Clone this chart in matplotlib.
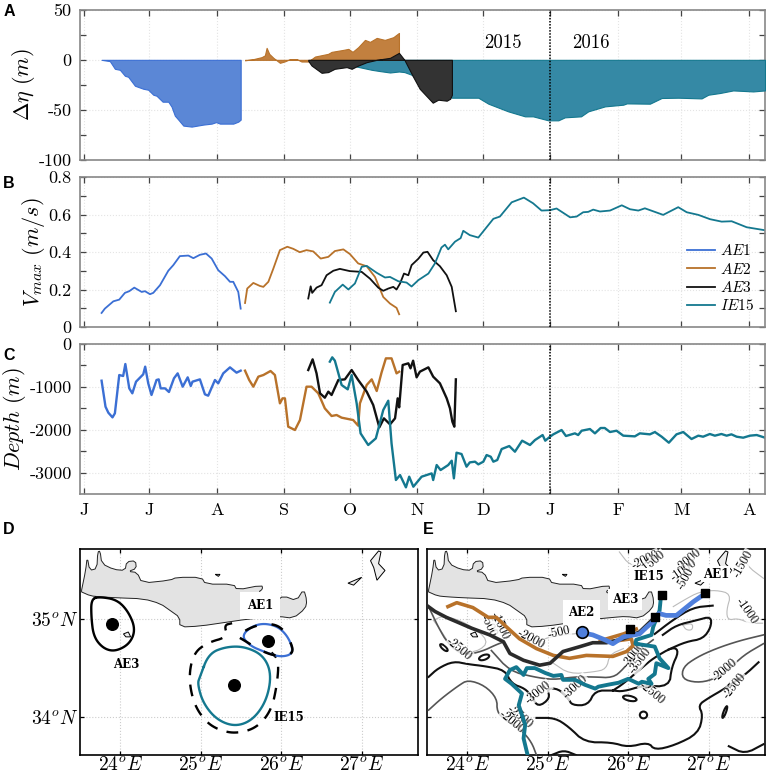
import numpy as np
import matplotlib
matplotlib.use('Agg')
import matplotlib.pyplot as plt
from matplotlib.patches import Ellipse
from matplotlib.ticker import FixedLocator

plt.rcParams['mathtext.fontset'] = 'cm'
plt.rcParams['font.family'] = ['cmr10', 'DejaVu Serif']
plt.rcParams['axes.formatter.use_mathtext'] = True

# days since 1 June 2015
month_days = [0, 30, 61, 92, 122, 153, 183, 214, 245, 274, 305]
month_labels = ['J', 'J', 'A', 'S', 'O', 'N', 'D', 'J', 'F', 'M', 'A']

# panel A, sea level anomaly (m)
ae1_eta = [[8.1, 11.9, 14.2, 16.5, 18.8, 20.3, 23.4, 27.2, 29.5, 31.8, 33.3, 36.1, 38.7, 40.2, 41.7, 43.3, 45.6, 49.4, 54.7, 58.6, 60.6, 62.4, 68.5, 70.8, 71.9],
           [0, -1.3, -9, -10, -16, -17, -26, -29, -30, -35, -36, -42, -42, -47, -56, -60, -66, -67, -65, -64, -62.5, -64, -64, -62, -60]]
ae2_eta = [[73.9, 77.7, 81.5, 83, 83.8, 85, 86.9, 89.9, 92.2, 94.5, 97.6, 99.8, 102.9, 106, 112, 113.6, 119, 121.3, 123.2, 125.8, 128.9, 131.2, 134.3, 138, 141.9, 144.5],
           [-0.5, 0.7, 2.7, 4.5, 12, 6, 2, -3, -1.5, 0.7, 0.7, -1.7, -1.7, 3.3, 6, 8, 10, 11, 8, 12.7, 20, 18, 22, 20, 22.7, 27]]
ae3_eta = [[102.9, 104.4, 109, 112, 115, 120.5, 122.8, 125.8, 129.7, 134.3, 140.4, 144.5, 147, 151, 154, 160, 162.5, 166.4, 168, 168.8],
           [-1, -5.7, -13, -12.3, -9, -7.3, -9, -5.7, -2.3, 0, 2, 7, 0, -17, -29, -43, -40, -41, -39, -35]]
ie15_eta = [[125, 132, 135.8, 140.4, 144.5, 147, 150, 168.8, 180.9, 185.5, 194.6, 202.3, 206, 213, 217.6, 220.6, 228, 231.3, 239, 247.4, 249, 259.6, 265, 272.6, 283.3, 286.4, 291.7, 297.8, 307, 312.4],
            [-6.7, -10, -11.3, -12.7, -11.7, -12.3, -14.7, -38, -38, -44, -51.7, -56.7, -56.7, -60.7, -60.7, -57.7, -56.7, -51.7, -46.7, -45, -43.7, -44, -38.3, -38, -38.7, -35, -33.3, -30.7, -31.7, -30.7]]

# panel B, maximum speed (m/s)
ae1_v = [[8.1, 9.6, 13.5, 16.2, 18.8, 20.8, 23.1, 26.5, 28, 30.3, 31.8, 34.9, 38.7, 41, 44, 47.9, 50.2, 53.2, 56, 58.6, 61.6, 64.7, 67, 68.5, 70.8, 71.9],
         [.075, .098, .137, .146, .182, .191, .21, .187, .191, .175, .182, .223, .3, .33, .378, .381, .367, .385, .392, .365, .303, .271, .241, .241, .187, .098]]
ae2_v = [[73.9, 74.9, 77.7, 80.7, 82.3, 84.6, 86.9, 89.9, 93.3, 96, 99, 102.1, 105.2, 108.6, 112.1, 115.1, 119, 122, 125.8, 129.7, 133.5, 137.3, 140.4, 143.4, 144.6],
         [.128, .205, .235, .219, .214, .241, .312, .41, .428, .417, .399, .41, .403, .365, .374, .405, .414, .389, .339, .324, .267, .16, .125, .102, .068]]
ae3_v = [[102.9, 104, 104.7, 106.7, 109, 111.3, 114.4, 117.4, 122, 127.4, 131.2, 135, 137.3, 139.6, 141.9, 143.4, 145, 146.8, 148.8, 150.3, 153.4, 155.7, 157.6, 160.2, 163.3, 166.4, 168.7, 170.6],
         [.152, .217, .182, .21, .223, .276, .3, .31, .298, .294, .258, .21, .193, .205, .214, .2, .232, .285, .276, .33, .364, .397, .401, .356, .324, .276, .214, .084]]
ie15_v = [[112.8, 115.1, 118.7, 121.3, 124.3, 127.4, 129.7, 134.3, 138.1, 140.4, 144.2, 148, 150.3, 153.4, 158, 161, 164, 165.6, 167.1, 170.2, 172.8, 174, 177, 180.9, 187.8, 190.8, 196.2, 201.8, 206, 209.9, 213.8, 216.8, 223, 226, 229, 231.3, 233.6, 236.7, 241.3, 246.7, 250.5, 254.3, 257.3, 265.7, 272.6, 276.5, 281.8, 287.2, 292.5, 297.1, 304, 312.4],
          [.13, .187, .226, .2, .232, .321, .326, .289, .264, .267, .244, .237, .216, .25, .285, .339, .424, .439, .414, .455, .474, .513, .49, .477, .577, .589, .665, .69, .66, .621, .623, .632, .585, .589, .612, .614, .626, .616, .621, .649, .628, .621, .633, .598, .639, .612, .598, .575, .562, .564, .532, .516]]

# panel C, depth (m)
ae1_z = [[8.1, 9.9, 11.2, 13.1, 14.2, 16.2, 18, 19, 20.8, 22.2, 23.9, 27.2, 28.1, 29.5, 31, 33.3, 34.3, 35.2, 37.2, 39, 41.3, 43, 45.3, 47.6, 49, 49.8, 53.2, 55.5, 57, 60.1, 61.6, 63.9, 67, 70, 71.9],
         [-856, -1463, -1603, -1712, -1618, -724, -747, -467, -1035, -1151, -879, -708, -529, -918, -1190, -840, -825, -1035, -1035, -1120, -801, -685, -996, -778, -980, -879, -825, -1175, -1206, -840, -918, -685, -545, -669, -622]]
ae2_z = [[73.9, 75.8, 77.7, 80, 82.3, 85.6, 87.6, 89.9, 91.1, 92.2, 93.7, 96.8, 99.1, 102.1, 104.4, 107.5, 110.5, 113.6, 115.9, 118.2, 123.5, 125.8, 126.6, 129.7, 132, 134.3, 136.5, 138.5, 141.1, 143.4, 144.6],
         [-622, -840, -996, -762, -724, -630, -724, -1385, -1268, -1268, -1929, -2007, -1774, -996, -996, -1151, -1502, -1680, -1657, -1719, -1774, -1906, -1385, -957, -825, -1097, -669, -335, -335, -685, -646]]
ae3_z = [[102.9, 104.9, 106.7, 108.3, 110.5, 112.1, 113.6, 116.7, 119.7, 122.8, 125.8, 129.7, 132.7, 135.5, 137.6, 140.4, 142.7, 143.9, 144.6, 146.2, 148.8, 149.8, 151, 152.6, 154.1, 158, 160.2, 163.3, 166.4, 167.9, 169, 169.9, 170.6],
         [-607, -358, -685, -1151, -1253, -1112, -1190, -840, -825, -607, -840, -1112, -1424, -1945, -1735, -1875, -1735, -1268, -1478, -490, -451, -568, -389, -778, -646, -545, -762, -918, -1268, -1502, -1813, -1929, -825]]
ie15_z = [[112.8, 113.9, 115.1, 118.2, 121, 122.8, 125.1, 126.9, 130.4, 133.9, 137.3, 139.6, 141.1, 143.1, 145, 147.7, 149.2, 151.1, 154.9, 159.5, 160.2, 161.8, 163.6, 167.1, 168.7, 169.7, 170.9, 173.2, 175.5, 177, 179.4, 180.9, 183.2, 184.7, 186.6, 187.8, 189.6, 191.6, 195.1, 197.7, 201, 204.6, 206.9, 210.4, 211.6, 213.8, 215.3, 219.1, 221.1, 225.2, 226.7, 228.3, 232.1, 234.4, 237, 238.9, 241.3, 244.3, 247.4, 252.7, 255, 259.6, 261.9, 265, 268.3, 271.8, 274.9, 278.7, 281.8, 284, 287.1, 289.4, 292.4, 294.8, 297, 299.4, 302.4, 305.5, 308.6, 312.4],
          [-412, -311, -389, -957, -1058, -724, -1385, -2085, -2357, -2202, -1540, -1323, -2318, -3174, -3058, -3345, -3096, -3330, -3096, -3019, -3174, -2824, -2941, -2824, -2723, -3135, -2536, -2567, -2863, -2762, -2746, -2809, -2746, -2591, -2630, -2746, -2707, -2451, -2381, -2513, -2256, -2357, -2241, -2124, -2256, -2163, -2108, -2007, -2147, -2085, -2124, -2023, -1984, -2085, -1960, -1960, -2054, -2023, -2139, -2155, -2085, -2108, -2054, -2163, -2303, -2108, -2054, -2217, -2139, -2163, -2100, -2139, -2100, -2139, -2108, -2163, -2186, -2139, -2124, -2186]]

# coast outlines, lon then lat
crete = [[23.52, 23.57, 23.59, 23.62, 23.71, 23.72, 23.75, 23.77, 23.92, 24.06, 24.08, 24.19, 24.20, 24.10, 24.21, 24.27, 24.62, 24.70, 25.01, 25.06, 25.41, 25.45, 25.76, 25.77, 25.72, 25.78, 25.94, 26.03, 26.19, 26.28, 26.32, 26.30, 26.15, 25.97, 25.82, 25.57, 25.32, 24.99, 24.74, 24.74, 24.62, 24.50, 24.29, 23.96, 23.75, 23.63, 23.52],
         [35.30, 35.50, 35.64, 35.50, 35.52, 35.69, 35.70, 35.57, 35.51, 35.50, 35.59, 35.60, 35.52, 35.49, 35.48, 35.37, 35.40, 35.43, 35.43, 35.36, 35.36, 35.30, 35.35, 35.31, 35.28, 35.26, 35.19, 35.24, 35.19, 35.31, 35.19, 35.11, 35.01, 35.03, 35.02, 35.00, 34.97, 34.93, 34.92, 35.02, 35.09, 35.16, 35.21, 35.22, 35.23, 35.24, 35.28]]
karpathos = [[27.11, 27.21, 27.24, 27.21, 27.29, 27.19, 27.15], [35.60, 35.70, 35.69, 35.57, 35.50, 35.40, 35.53]]
kasos = [[26.83, 27.0, 26.9], [35.37, 35.43, 35.35]]
gavdos = [[24.04, 24.10, 24.13, 24.07], [34.85, 34.87, 34.82, 34.82]]
dia = [[25.18, 25.24, 25.22], [35.46, 35.46, 35.44]]

# eddy outlines in panel D
ae3_edge = [[23.64, 23.75, 23.96, 24.10, 24.19, 24.12, 23.94, 23.79, 23.67, 23.64], [35.21, 35.23, 35.20, 35.08, 34.90, 34.75, 34.67, 34.70, 34.82, 35.02]]
ie15_edge = [[24.99, 25.10, 25.32, 25.55, 25.78, 25.88, 25.82, 25.65, 25.43, 25.20, 25.03, 24.96], [34.41, 34.65, 34.72, 34.72, 34.63, 34.44, 34.17, 33.97, 33.90, 33.97, 34.14, 34.34]]
ie15_outer = [[25.39, 25.29, 25.34, 25.08, 24.91, 24.85, 24.91, 25.06, 25.24, 25.45, 25.70, 25.88, 25.95, 25.97, 25.88], [34.96, 34.94, 34.82, 34.76, 34.65, 34.41, 34.14, 33.95, 33.86, 33.83, 33.89, 34.07, 34.34, 34.58, 34.66]]
ae1_edge = [[25.50, 25.70, 25.94, 26.09, 26.16, 25.99, 25.78, 25.61], [34.84, 34.96, 34.94, 34.82, 34.65, 34.61, 34.67, 34.73]]
ae1_outer = [[25.44, 25.70, 25.97, 26.11, 26.16, 25.94, 25.74, 25.53], [34.83, 34.95, 34.95, 34.79, 34.64, 34.62, 34.68, 34.79]]
centre_lon = [23.90, 25.84, 25.41]
centre_lat = [34.95, 34.78, 34.33]

# tracks in panel E
ae2_track = [[26.10, 25.94, 25.65, 25.77, 26.04, 26.06, 25.98, 25.81, 25.48, 25.27, 25.07, 24.86, 24.65, 24.49, 24.36, 24.26, 24.07, 23.87, 23.76],
             [34.90, 34.85, 34.78, 34.77, 34.80, 34.73, 34.67, 34.62, 34.63, 34.60, 34.63, 34.70, 34.80, 34.92, 35.02, 35.02, 35.12, 35.17, 35.13]]
ae3_track = [[26.33, 26.14, 25.94, 25.73, 25.56, 25.40, 25.19, 25.03, 24.90, 24.70, 24.53, 24.45, 24.28, 24.05, 23.91, 23.74, 23.60, 23.50],
             [35.02, 34.87, 34.80, 34.76, 34.76, 34.72, 34.67, 34.55, 34.53, 34.58, 34.65, 34.77, 34.84, 34.91, 34.96, 35.02, 35.08, 35.14]]
ie15_track = [[26.41, 26.39, 26.31, 26.29, 26.10, 26.09, 26.33, 26.39, 26.50, 26.35, 26.33, 26.25, 26.29, 26.17, 26.13, 26.0, 25.88, 25.75, 25.63, 25.59, 25.46, 25.34, 25.19, 25.17, 25.07, 24.97, 24.84, 24.74, 24.70, 24.61, 24.53, 24.47, 24.55, 24.68, 24.64, 24.72, 24.70, 24.75],
              [35.26, 35.09, 34.92, 34.84, 34.79, 34.75, 34.72, 34.60, 34.50, 34.55, 34.44, 34.39, 34.34, 34.36, 34.34, 34.39, 34.35, 34.33, 34.31, 34.29, 34.33, 34.38, 34.38, 34.43, 34.42, 34.45, 34.50, 34.50, 34.43, 34.51, 34.48, 34.39, 34.34, 34.24, 34.12, 33.92, 33.78, 33.61]]
ae1_track = [[26.95, 26.81, 26.60, 26.47, 26.38, 26.33, 26.23, 26.14, 25.94, 25.81, 25.71, 25.56, 25.44],
             [35.26, 35.18, 35.04, 35.04, 35.06, 34.99, 34.92, 34.85, 34.82, 34.75, 34.79, 34.84, 34.86]]
start_lon = [26.95, 26.42, 26.33, 26.02]
start_lat = [35.27, 35.25, 35.02, 34.90]

# isobaths, each with its line colour and width
black_lines = [
    [[24.86, 25.09, 25.26, 25.46, 25.79, 26.0, 26.25, 26.33, 26.58, 26.87, 26.93, 26.87, 26.99, 27.20, 27.45, 27.62], [33.99, 33.99, 33.90, 33.74, 33.74, 33.69, 33.74, 33.66, 33.71, 33.83, 34.02, 34.12, 34.19, 34.29, 34.43, 34.56]],
    [[23.52, 23.64, 23.83, 24.01, 24.22, 24.47, 24.55, 24.72, 24.80, 24.88, 25.03, 24.99, 25.13, 25.26, 25.30, 25.50, 25.59, 25.81], [34.41, 34.50, 34.57, 34.54, 34.52, 34.48, 34.34, 34.29, 34.21, 34.10, 34.19, 34.29, 34.29, 34.19, 34.12, 34.12, 34.27, 34.27]],
    [[25.81, 25.94, 26.18, 26.31, 26.56, 26.63, 26.54, 26.51, 26.18, 25.94, 25.81], [34.27, 34.34, 34.51, 34.60, 34.72, 34.67, 34.51, 34.31, 34.32, 34.26, 34.27]],
    [[26.33, 26.55, 26.80, 27.05], [34.85, 34.99, 35.12, 35.14]],
    [[26.43, 26.60, 26.85, 27.03, 27.03, 26.93, 26.72, 26.50], [34.84, 34.94, 34.99, 35.03, 34.92, 34.80, 34.77, 34.69]],
    [[27.25, 27.45, 27.68], [33.70, 33.62, 33.72]],
    [[25.05, 25.2, 25.35], [33.61, 33.66, 33.61]],
]
dark_lines = [
    [[23.52, 23.68, 23.89, 24.01, 24.22, 24.37, 24.37, 24.47, 24.68, 24.80, 24.86], [34.07, 34.19, 34.32, 34.38, 34.32, 34.19, 34.05, 33.97, 33.86, 33.74, 33.61]],
    [[27.68, 27.38, 27.09, 26.85, 26.68, 26.67, 26.85, 27.05, 27.26, 27.43, 27.68], [34.84, 34.78, 34.70, 34.61, 34.51, 34.39, 34.35, 34.38, 34.49, 34.63, 34.75]],
    [[23.52, 23.64, 23.76, 23.95, 24.18, 24.36, 24.46], [35.13, 34.92, 34.75, 34.63, 34.67, 34.74, 34.77]],
    [[24.30, 24.53, 24.82, 25.07, 25.32, 25.57, 25.81, 25.94, 26.10, 26.31], [34.68, 34.47, 34.41, 34.38, 34.41, 34.41, 34.40, 34.49, 34.66, 34.79]],
]
light_lines = [
    [[23.58, 23.71, 24.0, 24.28, 24.12, 23.83, 23.71, 23.58], [34.99, 35.04, 34.96, 34.78, 34.66, 34.67, 34.84, 34.99]],
    [[27.67, 27.51, 27.36, 27.24, 27.22, 27.28, 27.09, 26.88, 26.70, 26.56], [34.96, 34.96, 35.01, 34.99, 35.09, 35.26, 35.30, 35.28, 35.20, 35.13]],
    [[26.68, 26.80, 26.80, 26.72, 26.68], [34.94, 34.96, 34.89, 34.89, 34.94]],
    [[25.89, 26.02, 26.23], [35.69, 35.55, 35.55]],
    [[24.86, 25.07, 25.44], [34.77, 34.83, 34.86]],
    [[25.07, 25.27, 25.57, 25.73, 25.77, 25.94], [34.55, 34.44, 34.46, 34.49, 34.64, 34.70]],
    [[27.43, 27.47, 27.68], [35.70, 35.55, 35.42]],
]
# isobath labels: text, lon, lat, angle
iso_text = ['-2000', '-500', '-500', '-1500', '-2500', '-3000', '-3000', '-2500', '-3000', '-3500', '-2000', '-2500', '-2500', '-2000', '-2000', '-1500', '-2000', '-1000', '-500', '-1500', '-1000']
iso_lon = [24.80, 25.15, 24.27, 24.40, 23.90, 24.88, 25.35, 26.30, 26.08, 26.15, 27.20, 27.33, 24.65, 24.55, 26.22, 26.31, 26.76, 26.70, 26.72, 27.43, 27.47]
iso_lat = [34.80, 34.86, 34.93, 34.93, 34.70, 34.25, 34.31, 34.25, 34.64, 34.58, 34.48, 34.32, 34.00, 33.95, 35.61, 35.58, 35.60, 35.50, 35.42, 35.57, 35.08]
iso_angle = [-28, 12, -65, -65, -40, 38, 42, -40, 52, 52, 40, 50, -40, -40, 25, 40, 40, 35, 60, 60, -55]

blue, orange, dark, teal = '#3b6fd4', '#b8722a', '#111111', '#14788f'
W, H = 768.0, 774.0


def px_axes(fig, left, top, right, bottom):
    return fig.add_axes([left / W, 1 - bottom / H, (right - left) / W, (bottom - top) / H])


def smooth(xy, closed=False, n=3):
    # corner cutting, only to round the hand-read outlines
    p = np.array(xy, dtype=float).T
    first, last = p[:1], p[-1:]
    for i in range(n):
        q = np.roll(p, -1, axis=0) if closed else p[1:]
        a = p if closed else p[:-1]
        mid = np.empty((2 * len(a), 2))
        mid[0::2] = 0.75 * a + 0.25 * q
        mid[1::2] = 0.25 * a + 0.75 * q
        p = mid if closed else np.vstack([first, mid, last])
    if closed:
        p = np.vstack([p, p[0]])
    return p[:, 0], p[:, 1]


def time_axis(ax, show):
    ax.set_xlim(-1.8, 312.4)
    ax.set_xticks(month_days)
    ax.set_xticklabels(month_labels if show else [])
    ax.axvline(214, color='k', ls=(0, (1, 1)), lw=1.1, zorder=5)
    ax.grid(True, color='#e4e4e4', ls=':', lw=0.8)
    ax.set_axisbelow(True)
    ax.tick_params(which='both', direction='in', top=True, right=True, length=4, width=0.9, color='#444444', labelsize=13, pad=6)
    for s in ax.spines.values():
        s.set_color('#888888')
        s.set_linewidth(1.2)


def base_map(ax, show_lat):
    ax.set_xlim(23.5, 27.7)
    ax.set_ylim(33.61, 35.72)
    ax.set_xticks([24, 25, 26, 27])
    ax.set_xticklabels(['$24^oE$', '$25^oE$', '$26^oE$', '$27^oE$'], fontsize=14)
    ax.set_yticks([34, 35])
    ax.set_yticklabels(['$34^oN$', '$35^oN$'] if show_lat else [], fontsize=14)
    ax.grid(True, color='#cccccc', ls=':', lw=0.8)
    ax.set_axisbelow(True)
    ax.tick_params(direction='in', top=True, right=True, length=3, width=0.9, pad=1)
    for s in ax.spines.values():
        s.set_linewidth(1.2)
    x, y = smooth(crete, n=1)
    ax.fill(x, y, facecolor='#e3e3e3', edgecolor='#222222', lw=0.7, zorder=2)
    for isle in [karpathos, kasos, gavdos, dia]:
        ax.fill(isle[0], isle[1], facecolor='#eeeeee', edgecolor='k', lw=0.7, zorder=2)


fig = plt.figure(figsize=(W / 100, H / 100), dpi=100)

# A
ax = px_axes(fig, 80, 10, 765, 159.5)
for d, c, e in [(ie15_eta, '#3589a5', teal), (ae2_eta, '#c2803f', orange), (ae3_eta, '#333333', dark), (ae1_eta, '#5b87d6', blue)]:
    ax.fill_between(d[0], d[1], 0, facecolor=c, edgecolor=e, lw=0.8, zorder=3)
time_axis(ax, False)
ax.set_ylim(-100, 50)
ax.set_yticks([-100, -50, 0, 50])
ax.set_yticklabels(['-100', '-50', '0', '50'])
ax.yaxis.set_minor_locator(FixedLocator([-75, -25, 25]))
ax.set_ylabel(r'$\Delta\eta\ (m)$', fontsize=16, labelpad=1)
ax.text(192.2, 16.5, '2015', fontsize=13.5, ha='center', va='center')
ax.text(232.5, 16.5, '2016', fontsize=13.5, ha='center', va='center')

# B
ax = px_axes(fig, 80, 177, 765, 327)
for d, c, name in [(ae1_v, blue, '$AE1$'), (ae2_v, orange, '$AE2$'), (ae3_v, dark, '$AE3$'), (ie15_v, teal, '$IE15$')]:
    ax.plot(d[0], d[1], color=c, lw=1.3, label=name)
time_axis(ax, False)
ax.set_ylim(0, 0.8)
ax.set_yticks([0, 0.2, 0.4, 0.6, 0.8])
ax.set_yticklabels(['0', '0.2', '0.4', '0.6', '0.8'])
ax.yaxis.set_minor_locator(FixedLocator([0.1, 0.3, 0.5, 0.7]))
ax.set_ylabel(r'$V_{max}\ (m/s)$', fontsize=16, labelpad=1)
ax.legend(loc='lower right', bbox_to_anchor=(0.985, 0.09), frameon=False, fontsize=11, labelspacing=0.22,
          handlelength=1.8, handletextpad=0.35, borderpad=0, borderaxespad=0)

# C
ax = px_axes(fig, 80, 344, 765, 494)
for d, c in [(ae1_z, blue), (ae2_z, orange), (ae3_z, dark), (ie15_z, teal)]:
    ax.plot(d[0], d[1], color=c, lw=1.7)
time_axis(ax, True)
ax.set_ylim(-3500, 0)
ax.set_yticks([-3000, -2000, -1000, 0])
ax.set_yticklabels(['-3000', '-2000', '-1000', '0'])
ax.yaxis.set_minor_locator(FixedLocator([-2500, -1500, -500]))
ax.set_ylabel(r'$Depth\ (m)$', fontsize=16, labelpad=1)

# D
ax = px_axes(fig, 80, 549, 418, 755)
base_map(ax, True)
for d, c, ls, lw, closed in [(ie15_outer, 'k', (0, (5, 4)), 1.7, False), (ae3_edge, 'k', '-', 1.7, True),
                             (ie15_edge, teal, '-', 1.7, True), (ae1_edge, blue, '-', 1.6, True),
                             (ae1_outer, 'k', (0, (5, 6)), 1.8, True)]:
    x, y = smooth(d, closed=closed)
    ax.plot(x, y, color=c, ls=ls, lw=lw, zorder=4)
ax.scatter(centre_lon, centre_lat, s=70, color='k', zorder=5)
bold = dict(family='DejaVu Serif', fontweight='bold', fontsize=8.5, ha='center', va='center', zorder=6)
ax.text(25.74, 35.14, 'AE1', bbox=dict(fc='w', ec='none', pad=5), **bold)
ax.text(24.07, 34.54, 'AE3', **bold)
ax.text(26.10, 33.99, 'IE15', **bold)

# E
ax = px_axes(fig, 427, 549, 765, 755)
base_map(ax, False)
for lines, c, lw in [(light_lines, '#bbbbbb', 0.8), (dark_lines, '#555555', 1.2), (black_lines, '#111111', 1.5)]:
    for d in lines:
        x, y = smooth(d, n=2)
        ax.plot(x, y, color=c, lw=lw, zorder=3)
for c0, w, h, a in [((23.71, 34.71), 0.11, 0.04, -35), ((24.21, 34.61), 0.13, 0.05, 15), ((26.02, 34.19), 0.17, 0.05, -10),
                    ((26.19, 34.02), 0.09, 0.07, 0), ((27.20, 34.05), 0.13, 0.03, 65)]:
    ax.add_patch(Ellipse(c0, w, h, angle=a, fill=False, ec='#111111', lw=1.5, zorder=3))
for t, x, y, a in zip(iso_text, iso_lon, iso_lat, iso_angle):
    ax.text(x, y, t, rotation=a, fontsize=9, ha='center', va='center', zorder=3, rotation_mode='anchor',
            bbox=dict(fc='w', ec='none', pad=0.3, alpha=0.8))
for d, c, lw in [(ae2_track, orange, 2.6), (ie15_track, teal, 2.8), (ae3_track, '#2b2b2b', 2.6), (ae1_track, '#4f7fdc', 3.4)]:
    ax.plot(d[0], d[1], color=c, lw=lw, zorder=4, solid_joinstyle='round')
ax.scatter(start_lon, start_lat, s=34, marker='s', color='k', zorder=5)
ax.scatter([25.43], [34.87], s=70, facecolor='#4f7fdc', edgecolor='k', lw=1.2, zorder=5)
ax.text(25.42, 35.07, 'AE2', bbox=dict(fc='w', ec='none', pad=4), **bold)
ax.text(25.96, 35.20, 'AE3', bbox=dict(fc='w', ec='none', pad=3), **bold)
ax.text(26.26, 35.44, 'IE15', bbox=dict(fc='w', ec='none', pad=1), **bold)
ax.text(27.09, 35.46, 'AE1', bbox=dict(fc='w', ec='none', pad=1), **bold)

# panel letters
for t, x, y in [('A', 4, 12), ('B', 3, 184), ('C', 3, 356), ('D', 3, 530), ('E', 423, 530)]:
    fig.text(x / W, 1 - y / H, t, family='Liberation Sans', fontweight='bold', fontsize=11.5, ha='left', va='center')

fig.savefig('out.png', dpi=100)
